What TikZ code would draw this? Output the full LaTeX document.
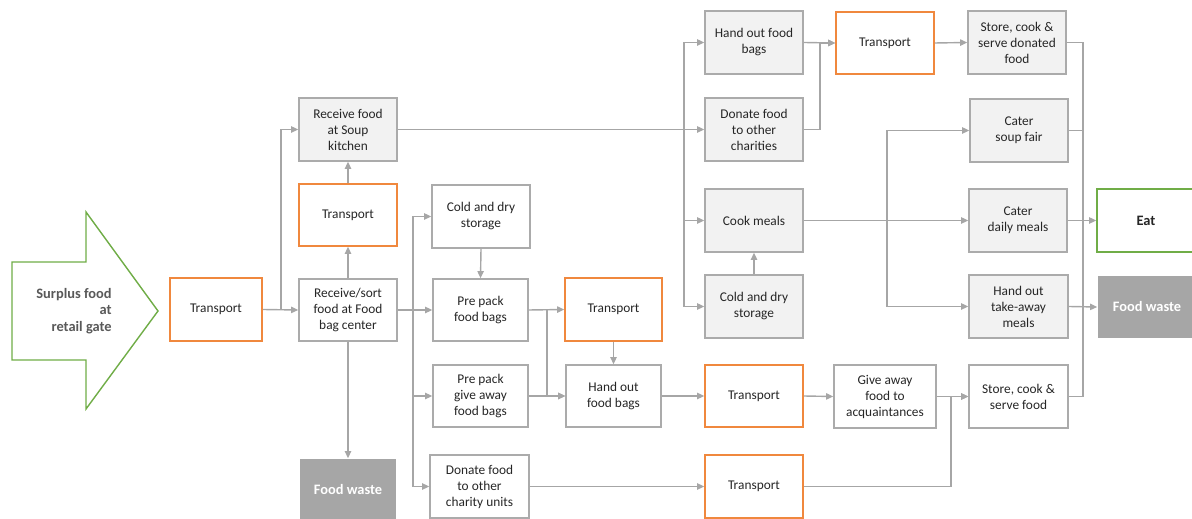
\documentclass[tikz,border=0pt]{standalone}
\usepackage{fontspec}
\setmainfont{Carlito}
\usetikzlibrary{arrows.meta}
\definecolor{ln}{HTML}{A6A6A6}
\definecolor{bd}{HTML}{ABABAB}
\definecolor{fl}{HTML}{F2F2F2}
\definecolor{org}{HTML}{F0883E}
\definecolor{grn}{HTML}{70AD47}
\definecolor{txt}{HTML}{262626}
\definecolor{wst}{HTML}{A6A6A6}
\definecolor{srct}{HTML}{595959}
\tikzset{
 base/.style={draw, line width=0.9pt, inner sep=0pt, align=center, minimum width=1.96cm, minimum height=1.26cm, text=txt, font=\fontsize{7.6pt}{9.1pt}\selectfont},
 wbox/.style={base, draw=bd, fill=white},
 gbox/.style={base, draw=bd, fill=fl},
 obox/.style={base, draw=org, fill=white},
 wastebox/.style={base, draw=none, fill=wst, text=white, font=\fontsize{8.2pt}{9.8pt}\selectfont\bfseries},
 eatbox/.style={base, draw=grn, fill=white, font=\fontsize{8.2pt}{9.8pt}\selectfont\bfseries},
 conn/.style={draw=ln, line width=0.8pt, -{Triangle[length=4pt,width=3.6pt]}},
 bus/.style={draw=ln, line width=0.8pt},
 sz/.style 2 args={minimum width=#1*0.02cm, minimum height=#2*0.02cm},
 srcarrow/.style={draw=grn, line width=0.8pt, fill=white},
 srctext/.style={align=right, text=srct, inner sep=0pt, font=\fontsize{8.2pt}{9.3pt}\selectfont\bfseries},
}
\begin{document}
\begin{tikzpicture}[x=0.02cm,y=-0.02cm]
\useasboundingbox (0,0) rectangle (1192,519);
\clip (0,0) rectangle (1192,519);
% bus x positions
\coordinate (b1) at (281,0);
\coordinate (b2) at (413,0);
\coordinate (b3) at (547,0);
\coordinate (b4) at (684,0);
\coordinate (b5) at (820,0);
\coordinate (b6) at (887,0);
\coordinate (b7) at (951,0);
\coordinate (b8) at (1083,0);
% source arrow
\path[srcarrow] (12,262) -- (86,262) -- (86,212) -- (158,311) -- (86,409) -- (86,360) -- (12,360) -- cycle;
\node[srctext, anchor=east] (src) at (112,311) {Surplus food\\at\\retail gate};
% nodes
\node[obox, sz={92}{63}] (t1) at (216,309.5) {Transport};
\node[wbox, sz={98}{62}] (rs) at (348,310) {Receive/sort\\food at Food\\bag center};
\node[obox, sz={98}{62}] (t2) at (348,215) {Transport};
\node[gbox, sz={98}{63}] (sk) at (348,129.5) {Receive food\\at Soup\\kitchen};
\node[wastebox, sz={96}{60}] (fw1) at (348,489) {Food waste};
\node[wbox, sz={98}{63}] (cd1) at (481,216.5) {Cold and dry\\storage};
\node[wbox, sz={95}{62}] (pp) at (480.5,310) {Pre pack\\food bags};
\node[wbox, sz={95}{62}] (pg) at (480.5,396) {Pre pack\\give away\\food bags};
\node[wbox, sz={99}{63}] (dc) at (479.5,486.5) {Donate food\\to other\\charity units};
\node[obox, sz={97}{63}] (t3) at (613.5,309.5) {Transport};
\node[wbox, sz={95}{62}] (hb) at (613.5,396) {Hand out\\food bags};
\node[obox, sz={98}{62}] (t4) at (754,396) {Transport};
\node[obox, sz={98}{63}] (t5) at (754,486.5) {Transport};
\node[gbox, sz={98}{63}] (ho) at (754,42.5) {Hand out food\\bags};
\node[gbox, sz={98}{63}] (dch) at (754,129.5) {Donate food\\to other\\charities};
\node[gbox, sz={98}{63}] (cm) at (754,220.5) {Cook meals};
\node[gbox, sz={98}{63}] (cd2) at (754,306.5) {Cold and dry\\storage};
\node[obox, sz={98}{62}] (t6) at (885,43) {Transport};
\node[gbox, sz={98}{63}] (sd) at (1017,42.5) {Store, cook \&\\serve donated\\food};
\node[gbox, sz={98}{63}] (cs) at (1019,130.5) {Cater\\soup fair};
\node[gbox, sz={98}{63}] (cdm) at (1018,220.5) {Cater\\daily meals};
\node[gbox, sz={99}{63}] (ta) at (1018.5,306.5) {Hand out\\take-away\\meals};
\node[wbox, sz={102}{63}] (ga) at (885,396.5) {Give away\\food to\\acquaintances};
\node[wbox, sz={99}{63}] (sf) at (1018.5,396.5) {Store, cook \&\\serve food};
\node[eatbox, sz={98}{63}] (eat) at (1146,220.5) {Eat};
\node[wastebox, sz={98}{62}] (fw2) at (1147,307) {Food waste};
% connectors
\draw[conn] (t1.east) -- (rs.west);
\draw[conn] (t1.east) -- (t1.east -| b1) |- (sk.west);
\draw[conn] (rs.north) -- (t2.south);
\draw[conn] (t2.north) -- (sk.south);
\draw[conn] (rs.south) -- (fw1.north);
\draw[conn] (rs.east) -- (pp.west);
\draw[conn] (rs.east -| b2) |- (cd1.west);
\draw[conn] (rs.east -| b2) |- (pg.west);
\draw[conn] (rs.east -| b2) |- (dc.west);
\draw[conn] (cd1.south) -- (pp.north);
\draw[conn] (pp.east) -- (t3.west);
\draw[conn] (pp.east -| b3) |- (hb.west);
\draw[conn] (pg.east) -- (hb.west);
\draw[conn] (t3.south) -- (hb.north);
\draw[conn] (hb.east) -- (t4.west);
\draw[conn] (t4.east) -- (ga.west);
\draw[conn] (ga.east) -- (sf.west);
\draw[conn] (dc.east) -- (t5.west);
\draw[conn] (t5.east) -- (t5.east -| b7) |- (sf.west);
\draw[conn] (sk.east) -- (dch.west);
\draw[conn] (sk.east -| b4) |- (ho.west);
\draw[conn] (sk.east -| b4) |- (cm.west);
\draw[conn] (sk.east -| b4) |- (cd2.west);
\draw[conn] (cd2.north) -- (cm.south);
\draw[conn] (ho.east) -- (t6.west);
\draw[conn] (dch.east) -- (dch.east -| b5) |- (t6.west);
\draw[conn] (t6.east) -- (sd.west);
\draw[conn] (cm.east) -- (cdm.west);
\draw[conn] (cm.east -| b6) |- (cs.west);
\draw[conn] (cm.east -| b6) |- (ta.west);
\draw[bus] (sd.east) -- (sd.east -| b8) |- (sf.east);
\draw[bus] (cs.east) -- (cs.east -| b8);
\draw[conn] (cdm.east) -- (eat.west);
\draw[conn] (ta.east) -- (fw2.west);
\end{tikzpicture}
\end{document}
